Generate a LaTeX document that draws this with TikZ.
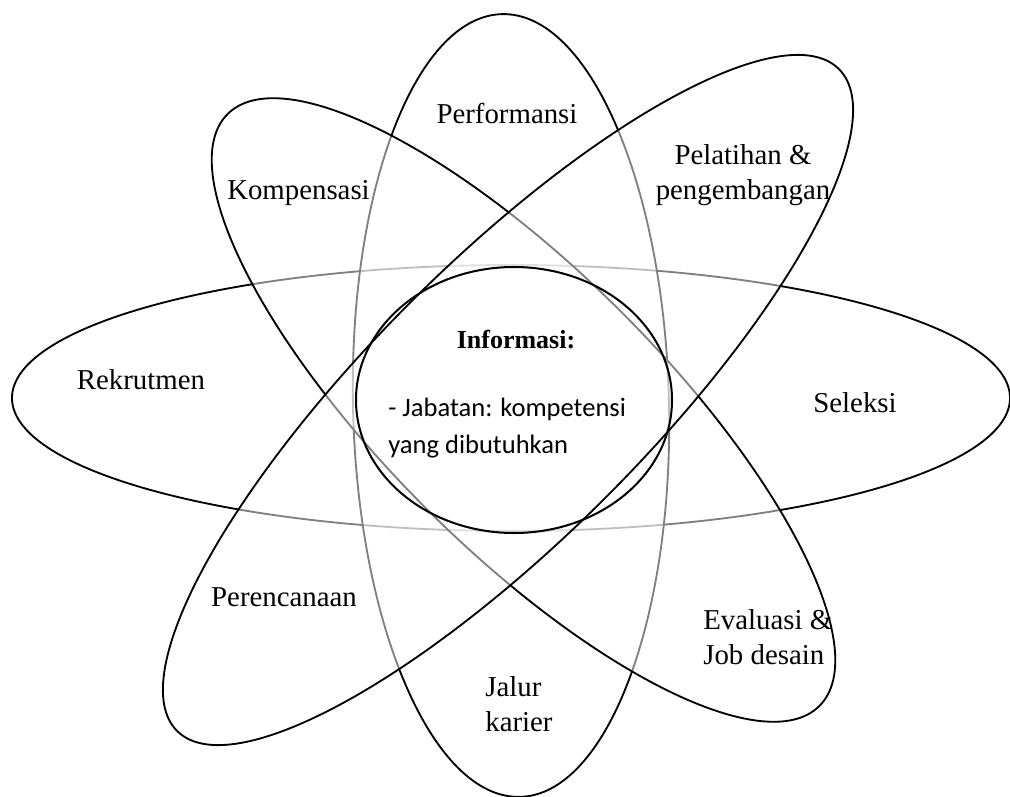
\documentclass[tikz,border=0pt]{standalone}
\usepackage{fontspec}
\setmainfont{Liberation Serif}
\newfontfamily\calibrilike{Carlito}
\usetikzlibrary{positioning}

\begin{document}
\begin{tikzpicture}[
    orbit/.style={draw=black, line width=1.05pt, fill=white, fill opacity=0.5},
    core/.style={draw=black, line width=1.15pt},
    lbl/.style={font=\fontsize{16.4}{19.8}\selectfont, inner sep=0pt},
    lblleft/.style={lbl, align=left, anchor=west},
    lblmid/.style={lbl, align=center}
  ]
  \useasboundingbox (0,0) rectangle (20.2,15.92);
  % the four orbits, back to front
  \path[orbit] (10.22,7.96) ellipse[x radius=9.98, y radius=2.66];
  \path[orbit] (10.22,7.81) ellipse[x radius=3.16, y radius=7.83, rotate=1.3];
  \path[orbit] (10.47,7.72) ellipse[x radius=8.37, y radius=2.77, rotate=-45];
  \path[orbit] (10.16,7.92) ellipse[x radius=9.36, y radius=2.76, rotate=45];
  % centre
  \path[core] (10.28,7.92) ellipse[x radius=3.16, y radius=2.66];

  \node[lblmid] (perf) at (10.14,13.66) {Performansi};
  \node[lblmid] (komp) at (5.97,12.06) {Kompensasi};
  \node[lblmid] (pelat) at (14.86,12.42) {Pelatihan \&\\pengembangan};
  \node[lblmid] (rekr) at (2.82,8.32) {Rekrutmen};
  \node[lblmid] (sel) at (17.10,7.86) {Seleksi};
  \node[lblmid] (renc) at (5.68,3.98) {Perencanaan};
  \node[lblleft] (jalur) at (9.70,1.83) {Jalur\\karier};
  \node[lblleft] (eval) at (14.06,3.17) {Evaluasi \&\\Job desain};

  \node[lblmid, font=\fontsize{14.8}{18}\selectfont\bfseries] (info) at (10.32,9.12) {Informasi:};
  \node[anchor=west, align=left, inner sep=0pt, font=\calibrilike\fontsize{15.1}{21}\selectfont] (jab) at (7.76,7.35)
    {- Jabatan: kompetensi\\yang dibutuhkan};
\end{tikzpicture}
\end{document}
